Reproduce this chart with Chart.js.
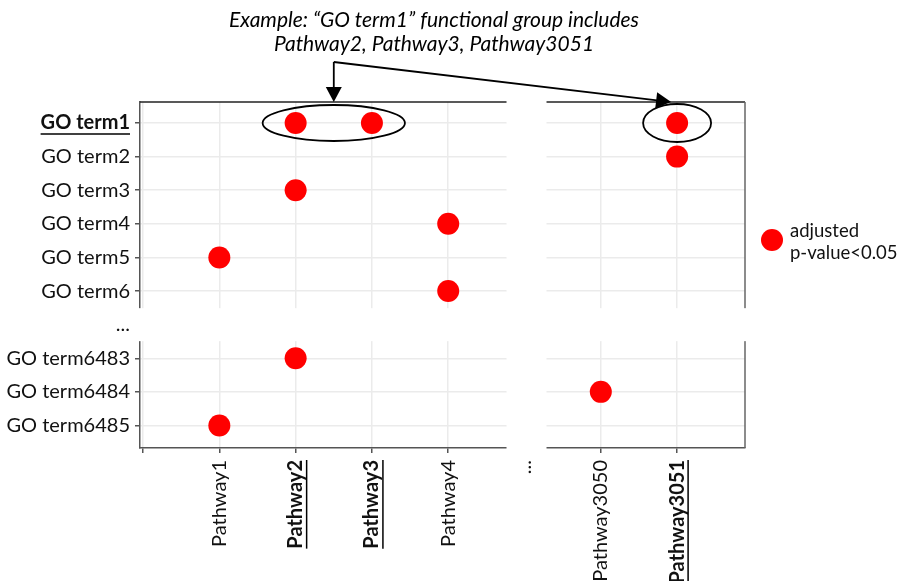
<!DOCTYPE html>
<html>
<head>
<meta charset="utf-8">
<script src="https://cdn.jsdelivr.net/npm/chart.js@4.4.1/dist/chart.umd.min.js"></script>
<style>
html,body{margin:0;padding:0;background:#fff;}
#wrap{width:903px;height:581px;position:relative;}
</style>
</head>
<body>
<div id="wrap"><canvas id="c" width="903" height="581"></canvas></div>
<script>
// ---- data ----
const yLabels = ['GO term1','GO term2','GO term3','GO term4','GO term5','GO term6','...','GO term6483','GO term6484','GO term6485'];
const xLabels = ['','Pathway1','Pathway2','Pathway3','Pathway4','...','Pathway3050','Pathway3051'];
const hitTerm    = ['GO term1','GO term1','GO term1','GO term2','GO term3','GO term4','GO term5','GO term6','GO term6483','GO term6484','GO term6485'];
const hitPathway = ['Pathway2','Pathway3','Pathway3051','Pathway3051','Pathway2','Pathway4','Pathway1','Pathway4','Pathway2','Pathway3050','Pathway1'];
const highlightTerms = ['GO term1'];
const highlightPathways = ['Pathway2','Pathway3','Pathway3051'];
const exampleTerm = 'GO term1';
const legendLines = ['adjusted','p-value<0.05'];
const noteLines = ['Example: \u201cGO term1\u201d functional group includes','Pathway2, Pathway3, Pathway3051'];

const FONT = 'Lato';
const FS = 20;
const points = hitTerm.map((t, i) => ({x: xLabels.indexOf(hitPathway[i]), y: yLabels.indexOf(t)}));

function line(ctx, x1, y1, x2, y2){ctx.beginPath();ctx.moveTo(x1,y1);ctx.lineTo(x2,y2);ctx.stroke();}
function arrowHead(ctx, fx, fy, tx, ty, len, half){
  const ang = Math.atan2(ty - fy, tx - fx);
  ctx.beginPath();
  ctx.moveTo(tx, ty);
  ctx.lineTo(tx - len*Math.cos(ang) + half*Math.sin(ang), ty - len*Math.sin(ang) - half*Math.cos(ang));
  ctx.lineTo(tx - len*Math.cos(ang) - half*Math.sin(ang), ty - len*Math.sin(ang) + half*Math.cos(ang));
  ctx.closePath(); ctx.fill();
}

const decor = {
  id: 'decor',
  beforeDatasetsDraw(chart){
    const {ctx, chartArea: a, scales: {x, y}} = chart;
    ctx.save();
    ctx.lineWidth = 1.5;
    ctx.strokeStyle = '#222';
    line(ctx, a.left, a.top, a.right, a.top);
    ctx.strokeStyle = '#666';
    line(ctx, a.right, a.top, a.right, a.bottom);
    // axis breaks
    ctx.fillStyle = '#fff';
    const bx = x.getPixelForValue(xLabels.indexOf('...'));
    ctx.fillRect(bx - 18, a.top - 2, 40, a.bottom - a.top + 10);
    const by = y.getPixelForValue(yLabels.indexOf('...'));
    ctx.fillRect(a.left - 7, by - 16.5, a.right - a.left + 9, 33);
    ctx.restore();
  },
  afterDraw(chart){
    const {ctx, chartArea: a, scales: {x, y}} = chart;
    ctx.save();
    ctx.strokeStyle = '#000'; ctx.fillStyle = '#000'; ctx.lineWidth = 1.8;
    const ty = y.getPixelForValue(yLabels.indexOf(exampleTerm));
    const p2 = x.getPixelForValue(xLabels.indexOf(highlightPathways[0]));
    const p3 = x.getPixelForValue(xLabels.indexOf(highlightPathways[1]));
    const p51 = x.getPixelForValue(xLabels.indexOf(highlightPathways[2]));
    const e1x = (p2 + p3)/2;
    ctx.beginPath(); ctx.ellipse(e1x, ty, (p3 - p2)/2 + 33, 18, 0, 0, Math.PI*2); ctx.stroke();
    ctx.beginPath(); ctx.ellipse(p51, ty, 34, 19, 0, 0, Math.PI*2); ctx.stroke();
    // arrows
    const sy = 62;
    line(ctx, e1x, sy, e1x, a.top - 12);
    arrowHead(ctx, e1x, sy, e1x, a.top, 15, 8);
    const tx2 = p51 - 6, ty2 = a.top;
    const ang = Math.atan2(ty2 - sy, tx2 - e1x);
    line(ctx, e1x, sy, tx2 - 12*Math.cos(ang), ty2 - 12*Math.sin(ang));
    arrowHead(ctx, e1x, sy, tx2, ty2, 15, 8);
    // annotation text
    ctx.font = 'italic 21px ' + FONT;
    ctx.textAlign = 'center'; ctx.textBaseline = 'middle';
    ctx.fillText(noteLines[0], 434, 20);
    ctx.fillText(noteLines[1], 434, 44);
    // underlines for highlighted y labels
    ctx.lineWidth = 1.5;
    y.ticks.forEach((t) => {
      const lab = yLabels[t.value];
      if (highlightTerms.includes(lab)) {
        ctx.font = 'bold ' + FS + 'px ' + FONT;
        const w = ctx.measureText(lab).width;
        const py = y.getPixelForValue(t.value);
        const right = a.left - 5 - 5;
        line(ctx, right - w, py + 11, right, py + 11);
      }
    });
    x.ticks.forEach((t) => {
      const lab = xLabels[t.value];
      if (highlightPathways.includes(lab)) {
        ctx.font = 'bold ' + FS + 'px ' + FONT;
        const w = ctx.measureText(lab).width;
        const px = x.getPixelForValue(t.value);
        const top = a.bottom + 5 + 7;
        line(ctx, px + 11, top, px + 11, top + w);
      }
    });
    // legend
    const ds = chart.data.datasets[0];
    ctx.fillStyle = ds.backgroundColor;
    ctx.beginPath(); ctx.arc(772, 240, 11, 0, Math.PI*2); ctx.fill();
    ctx.fillStyle = '#111';
    ctx.font = '18.5px ' + FONT;
    ctx.textAlign = 'left'; ctx.textBaseline = 'middle';
    ctx.fillText(legendLines[0], 790, 231);
    ctx.fillText(legendLines[1], 790, 253);
    ctx.restore();
  }
};

new Chart(document.getElementById('c'), {
  type: 'scatter',
  data: {datasets: [{label: legendLines.join(' '), data: points, backgroundColor: '#ff0000', borderWidth: 0, pointRadius: 11, pointHoverRadius: 11}]},
  options: {
    responsive: false, animation: false, events: [],
    layout: {padding: {left: 0, top: 102, right: 158, bottom: 0}},
    plugins: {legend: {display: false}, tooltip: {enabled: false}},
    scales: {
      x: {
        type: 'linear', min: -0.04, max: 7.89,
        afterBuildTicks: s => { s.ticks = xLabels.map((_, i) => ({value: i})); },
        afterFit: s => { s.height = 133; },
        grid: {color: '#ebebeb', lineWidth: 1.5, tickColor: '#555', tickWidth: 1.5, tickLength: 5},
        border: {color: '#555', width: 1.5},
        ticks: {
          autoSkip: false, minRotation: 90, maxRotation: 90, padding: 7, color: '#111',
          callback: v => xLabels[v],
          font: c => ({family: FONT, size: FS, weight: highlightPathways.includes(xLabels[c.tick ? c.tick.value : 0]) ? 'bold' : 'normal'})
        }
      },
      y: {
        type: 'linear', reverse: true, min: -0.625, max: 9.67,
        afterBuildTicks: s => { s.ticks = yLabels.map((_, i) => ({value: i})); },
        afterFit: s => { s.width = 140; },
        grid: {color: '#ebebeb', lineWidth: 1.5, tickColor: '#555', tickWidth: 1.5, tickLength: 5},
        border: {color: '#555', width: 1.5},
        ticks: {
          autoSkip: false, padding: 5, color: '#111',
          callback: v => yLabels[v],
          font: c => ({family: FONT, size: FS, weight: highlightTerms.includes(yLabels[c.tick ? c.tick.value : 0]) ? 'bold' : 'normal'})
        }
      }
    }
  },
  plugins: [decor]
});
</script>
</body>
</html>
